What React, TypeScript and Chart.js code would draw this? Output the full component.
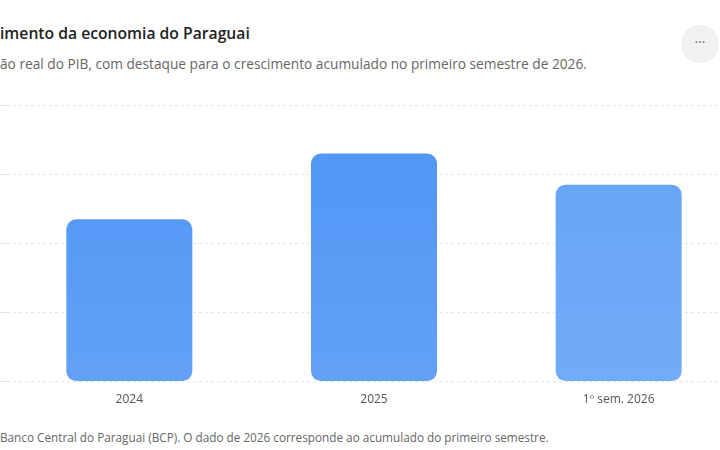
import { useEffect, useRef } from "react";
import { Chart, registerables } from "chart.js";

Chart.register(...registerables);

const categories = ["2024", "2025", "1º sem. 2026"];
const growth = [4.7, 6.6, 5.7];
const yTicks = [0, 2, 4, 6, 8];
const barTop = ["#4d95f4", "#4d95f4", "#64a3f6"];
const barBottom = ["#62a1f6", "#62a1f6", "#72abf7"];

const FONT = "'Open Sans', 'Noto Sans', sans-serif";

function GrowthChart() {
  const canvasRef = useRef<HTMLCanvasElement>(null);

  useEffect(() => {
    if (!canvasRef.current) return;
    const ctx = canvasRef.current.getContext("2d");
    if (!ctx) return;

    const chart = new Chart(ctx, {
      type: "bar",
      data: {
        labels: categories,
        datasets: [
          {
            label: "Crescimento do PIB (%)",
            data: growth,
            backgroundColor: (c: any) => {
              const area = c.chart.chartArea;
              const i = c.dataIndex ?? 0;
              if (!area) return barTop[i];
              const g = c.chart.ctx.createLinearGradient(0, area.top, 0, area.bottom);
              g.addColorStop(0, barTop[i]);
              g.addColorStop(1, barBottom[i]);
              return g;
            },
            borderRadius: 10,
            borderSkipped: false,
            barPercentage: 0.515,
            categoryPercentage: 1,
          },
        ],
      },
      options: {
        responsive: true,
        maintainAspectRatio: false,
        animation: false,
        layout: { padding: 0 },
        plugins: {
          legend: { display: false },
          tooltip: { enabled: false },
        },
        scales: {
          x: {
            grid: { display: false },
            border: { display: false },
            ticks: {
              padding: 3,
              color: "#555",
              font: { family: FONT, size: 12 },
            },
          },
          y: {
            min: 0,
            max: 8,
            afterFit: (scale: any) => {
              scale.width = 48;
            },
            afterBuildTicks: (scale: any) => {
              scale.ticks = yTicks.map((v) => ({ value: v }));
            },
            grid: {
              color: "#e4e4e4",
              tickLength: 8,
            },
            border: { display: false, dash: [3, 3] },
            ticks: {
              color: "#777",
              font: { family: FONT, size: 12 },
              callback: (v: any) => `${v}%`,
            },
          },
        },
      },
    });

    return () => {
      chart.destroy();
    };
  }, []);

  return <canvas ref={canvasRef}></canvas>;
}

export default function App() {
  useEffect(() => {
    document.body.style.margin = "0";
    document.body.style.overflow = "hidden";
    document.body.style.background = "#ffffff";
  }, []);

  const clipped = (hidden: string, shown: string) => (
    <span style={{ position: "relative" }}>
      <span style={{ position: "absolute", right: "100%", whiteSpace: "nowrap" }}>{hidden}</span>
      {shown}
    </span>
  );

  return (
    <div
      style={{
        position: "relative",
        width: 720,
        height: 450,
        overflow: "hidden",
        background: "#fff",
        fontFamily: FONT,
      }}
    >
      <div
        style={{
          position: "absolute",
          left: 0,
          top: 23,
          fontSize: 15.7,
          fontWeight: 600,
          color: "#222",
          whiteSpace: "nowrap",
          lineHeight: "20px",
        }}
      >
        {clipped("Cresc", "imento da economia do Paraguai")}
      </div>
      <div
        style={{
          position: "absolute",
          left: 0,
          top: 55,
          fontSize: 13.7,
          color: "#666",
          whiteSpace: "nowrap",
          lineHeight: "18px",
        }}
      >
        {clipped("Variaç", "ão real do PIB, com destaque para o crescimento acumulado no primeiro semestre de 2026.")}
      </div>
      <div
        style={{
          position: "absolute",
          left: 681,
          top: 25,
          width: 38,
          height: 38,
          borderRadius: "50%",
          background: "#f1f1f1",
          color: "#777",
          fontSize: 14,
          lineHeight: "34px",
          textAlign: "center",
        }}
      >
        ···
      </div>
      <div
        style={{
          position: "absolute",
          left: -41,
          top: 95,
          width: 782,
          height: 315,
        }}
      >
        <GrowthChart />
      </div>
      <div
        style={{
          position: "absolute",
          left: 0,
          top: 429,
          fontSize: 11.75,
          color: "#666",
          whiteSpace: "nowrap",
          lineHeight: "16px",
        }}
      >
        {clipped("Fonte: ", "Banco Central do Paraguai (BCP). O dado de 2026 corresponde ao acumulado do primeiro semestre.")}
      </div>
    </div>
  );
}
